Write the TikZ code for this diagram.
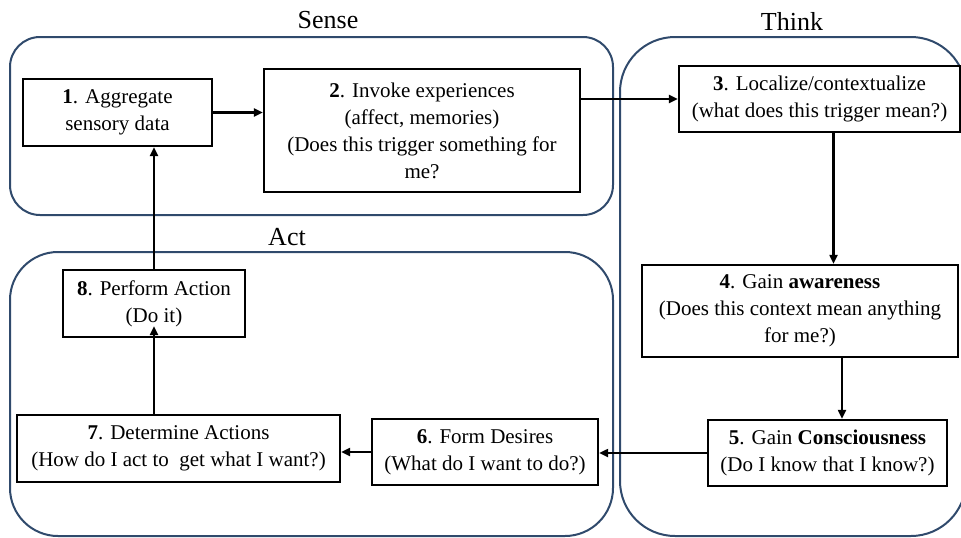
\documentclass[tikz,border=0pt]{standalone}
\usepackage{fontspec}
\setmainfont{Liberation Serif}
\usetikzlibrary{arrows.meta, positioning, calc}
\definecolor{cFrame}{RGB}{48,74,108}
\tikzset{
	blk/.style ={rectangle, draw=black, line width=2.4pt, align=center, inner sep=2pt, font=\fontsize{21}{27}\selectfont},
	grp/.style ={draw=cFrame, line width=2pt},
	sig/.style ={-{Triangle[length=9pt, width=8pt]}, line width=2.2pt},
	lbl/.style ={font=\fontsize{26}{30}\selectfont},
}

\begin{document}
\begin{tikzpicture}[x=1pt, y=-1pt]
	\useasboundingbox (0,0) rectangle (961,538);
	% groups
	\draw[grp, rounded corners=30pt] (10,37) rectangle (613,215);
	\draw[grp, rounded corners=48pt] (10,252) rectangle (613,536);
	\draw[grp, rounded corners=55pt] (620,37) rectangle (966,536);
	\node[lbl] (sense) at (328,20) {Sense};
	\node[lbl] (think) at (792,21) {Think};
	\node[lbl] (act)   at (287,237) {Act};
	% steps
	\node[blk, minimum width=189pt, minimum height=67pt] (n1) at (117.5,112.5) {\textbf{1}. Aggregate\\sensory data};
	\node[blk, minimum width=316pt, minimum height=123pt] (n2) at (422,130.5) {\textbf{2}. Invoke experiences\\(affect, memories)\\(Does this trigger something for\\me?};
	\node[blk, minimum width=281pt, minimum height=66pt] (n3) at (819.5,99) {\textbf{3}. Localize/contextualize\\(what does this trigger mean?)};
	\node[blk, minimum width=316pt, minimum height=92pt] (n4) at (800,311) {\textbf{4}. Gain \textbf{awareness}\\(Does this context mean anything\\for me?)};
	\node[blk, minimum width=239pt, minimum height=66pt] (n5) at (827.5,453) {\textbf{5}. Gain \textbf{Consciousness}\\(Do I know that I know?)};
	\node[blk, minimum width=226pt, minimum height=66pt] (n6) at (485,452) {\textbf{6}. Form Desires\\(What do I want to do?)};
	\node[blk, minimum width=323pt, minimum height=67pt] (n7) at (178.5,448.5) {\textbf{7}. Determine Actions\\(How do I act to ~get what I want?)};
	\node[blk, minimum width=182pt, minimum height=67pt] (n8) at (154,303.5) {\textbf{8}. Perform Action\\(Do it)};
	% flow
	\draw[sig] (n1.east) -- (n1.east -| n2.west);
	\draw[sig] (n2.east |- n3.west) -- (n3.west);
	\draw[sig] ([xshift=14pt]n3.south) -- ([xshift=14pt]n3.south |- n4.north);
	\draw[sig] ([xshift=42pt]n4.south) -- ([xshift=42pt]n4.south |- n5.north);
	\draw[sig] (n5.west) -- (n5.west -| n6.east);
	\draw[sig] (n6.west) -- (n6.west -| n7.east);
	\draw[sig] (n8.south |- n7.north) -- ([yshift=12pt]n8.south);
	\draw[sig] (n8.north) -- (n8.north |- n1.south);
\end{tikzpicture}
\end{document}
